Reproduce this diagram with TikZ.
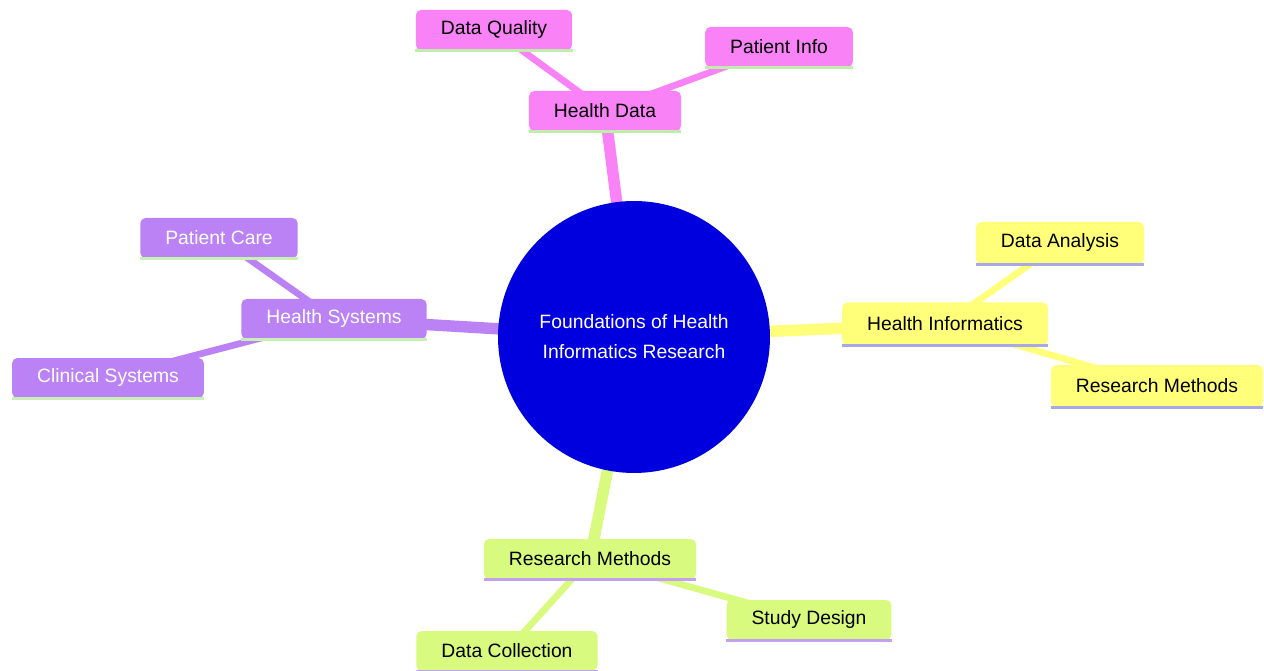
\documentclass[tikz,border=0pt]{standalone}
\usepackage{fontspec}
\setmainfont{Liberation Sans}
\usetikzlibrary{backgrounds}

\definecolor{rootblue}{RGB}{0,0,222}
\definecolor{pinkfill}{RGB}{248,130,246}
\definecolor{purplefill}{RGB}{186,130,245}
\definecolor{yellowfill}{RGB}{255,255,122}
\definecolor{greenfill}{RGB}{216,250,126}
\definecolor{pinkline}{RGB}{190,238,170}
\definecolor{yellowline}{RGB}{168,168,230}
\definecolor{purpleline}{RGB}{200,240,180}
\definecolor{greenline}{RGB}{196,160,240}

\tikzset{
  topic/.style={rectangle, rounded corners=3pt, minimum height=0.8cm,
    inner xsep=0.5cm, font=\fontsize{11}{13}\selectfont},
  root/.style={circle, fill=rootblue, text=white, minimum size=5.44cm,
    align=center, font=\fontsize{11}{17}\selectfont},
  thickedge/.style={line width=6.5pt},
  thinedge/.style={line width=3.8pt}
}

\begin{document}
\begin{tikzpicture}[x=0.02cm, y=-0.02cm]
  \useasboundingbox (0,0) rectangle (1264,671);

  \node[root] (root) at (634,337) {Foundations of Health\\Informatics Research};

  % health data branch
  \node[topic, fill=pinkfill] (hdata) at (605,111) {Health Data};
  \node[topic, fill=pinkfill] (dquality) at (494,30) {Data Quality};
  \node[topic, fill=pinkfill] (pinfo) at (779,47) {Patient Info};

  % health informatics branch
  \node[topic, fill=yellowfill, minimum height=0.86cm] (hinf) at (945,324) {Health Informatics};
  \node[topic, fill=yellowfill, minimum height=0.84cm] (danalysis) at (1060,243) {Data Analysis};
  \node[topic, fill=yellowfill, minimum height=0.84cm] (rmethodsA) at (1157,386) {Research Methods};

  % health systems branch
  \node[topic, fill=purplefill, text=white] (hsys) at (334,319) {Health Systems};
  \node[topic, fill=purplefill, text=white] (pcare) at (219,238) {Patient Care};
  \node[topic, fill=purplefill, text=white] (csys) at (108,378) {Clinical Systems};

  % research methods branch
  \node[topic, fill=greenfill] (rmethodsB) at (590,559) {Research Methods};
  \node[topic, fill=greenfill] (sdesign) at (809,620) {Study Design};
  \node[topic, fill=greenfill] (dcollect) at (507,651) {Data Collection};

  % underlines
  \foreach \n/\c in {hdata/pinkline, dquality/pinkline, pinfo/pinkline,
      hinf/yellowline, danalysis/yellowline, rmethodsA/yellowline,
      hsys/purpleline, pcare/purpleline, csys/purpleline,
      rmethodsB/greenline, sdesign/greenline, dcollect/greenline}
    \draw[\c, line width=1.6pt] (\n.south west) -- (\n.south east);

  \begin{scope}[on background layer]
    \draw[thickedge, pinkfill] (root.center) -- (hdata.center);
    \draw[thickedge, yellowfill] (root.center) -- (hinf.center);
    \draw[thickedge, purplefill] (root.center) -- (hsys.center);
    \draw[thickedge, greenfill] (root.center) -- (rmethodsB.center);

    \draw[thinedge, pinkfill] (hdata.center) -- (dquality.center);
    \draw[thinedge, pinkfill] (hdata.center) -- (pinfo.center);
    \draw[thinedge, yellowfill] (hinf.center) -- (danalysis.center);
    \draw[thinedge, yellowfill] (hinf.center) -- (rmethodsA.center);
    \draw[thinedge, purplefill] (hsys.center) -- (pcare.center);
    \draw[thinedge, purplefill] (hsys.center) -- (csys.center);
    \draw[thinedge, greenfill] (rmethodsB.center) -- (sdesign.center);
    \draw[thinedge, greenfill] (rmethodsB.center) -- (dcollect.center);
  \end{scope}
\end{tikzpicture}
\end{document}
